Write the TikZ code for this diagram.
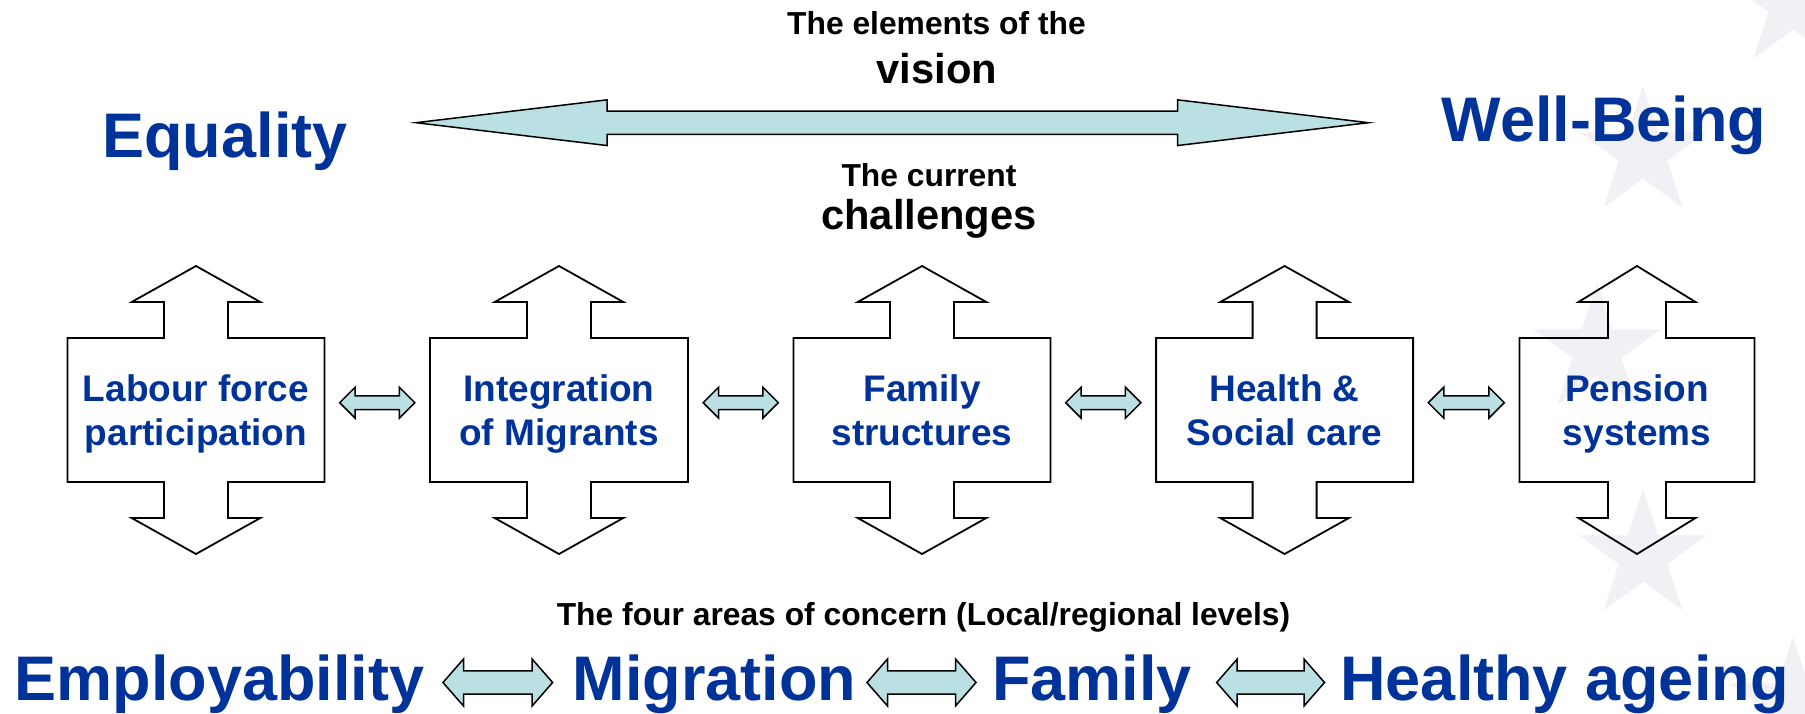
\documentclass[tikz,border=0pt]{standalone}
\usepackage{fontspec}
\setmainfont{Liberation Sans}
\usepackage{tikz}
\usetikzlibrary{calc}

\definecolor{eublue}{RGB}{0,51,153}
\definecolor{arrowcyan}{RGB}{187,224,227}
\definecolor{stargray}{RGB}{241,241,245}

\newcommand{\fatarrow}[5]{\draw[arrowfill] (#1) -- ($(#1)+(#3,#4)$) -- ($(#1)+(#3,#5)$) --
  ($(#2)+(-#3,#5)$) -- ($(#2)+(-#3,#4)$) -- (#2) -- ($(#2)+(-#3,-#4)$) --
  ($(#2)+(-#3,-#5)$) -- ($(#1)+(#3,-#5)$) -- ($(#1)+(#3,-#4)$) -- cycle;}
\newcommand{\tophold}{\rule{0pt}{35.2pt}}
\newcommand{\bothold}{\rule[-8.5pt]{0pt}{8.5pt}}

\begin{document}
\begin{tikzpicture}[x=1pt,y=-1pt,
    bigword/.style={text=eublue,font=\bfseries\fontsize{63}{70}\selectfont,inner sep=0,anchor=base},
    caption/.style={font=\bfseries\fontsize{31.8}{36}\selectfont,inner sep=0,anchor=base},
    headline/.style={font=\bfseries\fontsize{41.7}{48}\selectfont,inner sep=0,anchor=base},
    boxtext/.style={text=eublue,font=\bfseries\fontsize{37}{43.3}\selectfont,align=center,inner sep=0,minimum height=144},
    boxline/.style={draw=black,line width=1.8pt,line join=miter},
    arrowfill/.style={draw=black,line width=1.5pt,fill=arrowcyan,line join=miter}]
    \useasboundingbox (0,0) rectangle (1805,714);
    \fill[white] (0,0) rectangle (1805,714);
    \foreach \sx/\sy in {1793/4,1643/153,1597/350,1643/556,1793/704}
      \fill[stargray] (\sx,\sy-67) \foreach \k in {1,...,9} {-- ({\sx+67*(1-0.618*mod(\k,2))*cos(90+36*\k)},{\sy-67*(1-0.618*mod(\k,2))*sin(90+36*\k)})} -- cycle;

    \node[caption] (elements) at (936.5,35) {The elements of the};
    \node[headline] (vision) at (937,83.3) {vision};
    \node[bigword] (equality) at (225,158) {Equality};
    \node[bigword] (wellbeing) at (1604,142) {Well-Being};
    \coordinate (visL) at (416,122.7);
    \coordinate (visR) at (1368.5,122.7);
    \fatarrow{visL}{visR}{191}{22.85}{11.65}
    \node[caption] (current) at (929,186.7) {The current};
    \node[headline] (challenges) at (929,230) {challenges};

    \foreach \i/\cx/\w/\s/\h/\txt in {1/196/257/32/64.3/{Labour force\\participation},
        2/559/258/32/64.3/{Integration\\of Migrants}, 3/922/257/32/64.3/{Family\\structures},
        4/1284.6/257/32/64.3/{Health \&\\Social care}, 5/1637/235/29/58.5/{Pension\\systems}} {
      \draw[boxline] (\cx-\w/2,338) -- (\cx-\s,338) -- (\cx-\s,302) -- (\cx-\h,302) -- (\cx,266) --
        (\cx+\h,302) -- (\cx+\s,302) -- (\cx+\s,338) -- (\cx+\w/2,338) -- (\cx+\w/2,482) --
        (\cx+\s,482) -- (\cx+\s,518) -- (\cx+\h,518) -- (\cx,554) -- (\cx-\h,518) --
        (\cx-\s,518) -- (\cx-\s,482) -- (\cx-\w/2,482) -- cycle;
      \node[boxtext,minimum width=\w] (b\i) at (\cx,410) {\tophold\txt\bothold};
    }
    \foreach \i/\j in {1/2,2/3,3/4,4/5} {
      \coordinate (l\i) at ($(b\i.east)+(15,-7.3)$);
      \coordinate (r\i) at ($(b\j.west)+(-15,-7.3)$);
      \fatarrow{l\i}{r\i}{15.5}{15.5}{6.8}
    }

    \node[caption] (areas) at (923.5,625) {The four areas of concern (Local/regional levels)};
    \node[bigword] (employ) at (219.5,700) {Employability};
    \node[bigword] (migration) at (714.5,700) {Migration};
    \node[bigword] (family) at (1092,700) {Family};
    \node[bigword] (ageing) at (1564.5,700) {Healthy ageing};
    \foreach \i/\xa/\xb in {1/443/552.6,2/867/976,3/1216.7/1324.5} {
      \coordinate (al\i) at (\xa,682.5);
      \coordinate (ar\i) at (\xb,682.5);
      \fatarrow{al\i}{ar\i}{20.5}{23.5}{11.7}
    }
\end{tikzpicture}
\end{document}
